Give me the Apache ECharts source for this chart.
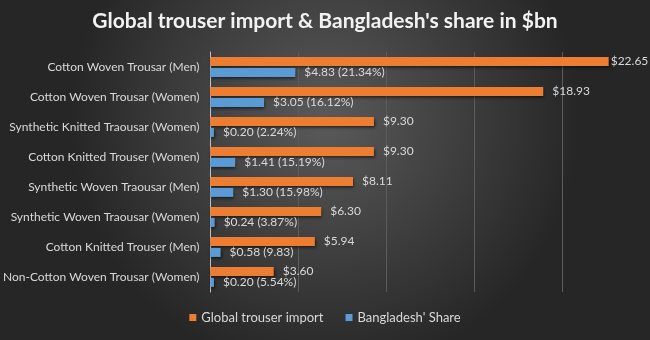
<!DOCTYPE html>
<html>
<head>
<meta charset="utf-8">
<script src="https://cdn.jsdelivr.net/npm/echarts@6/dist/echarts.min.js"></script>
<style>
html,body{margin:0;padding:0;background:#2b2b2b;}
#c{width:650px;height:340px;}
</style>
</head>
<body>
<div id="c"></div>
<script>
const categories = [
  "Cotton Woven Trousar (Men)",
  "Cotton Woven Trousar (Women)",
  "Synthetic Knitted Traousar (Women)",
  "Cotton Knitted Trouser (Women)",
  "Synthetic Woven Traousar (Men)",
  "Synthetic Woven Traousar (Women)",
  "Cotton Knitted Trouser (Men)",
  "Non-Cotton Woven Trousar (Women)"
];
const globalImport = [22.65, 18.93, 9.30, 9.30, 8.11, 6.30, 5.94, 3.60];
const bdShare = [4.83, 3.05, 0.20, 1.41, 1.30, 0.24, 0.58, 0.20];
const bdPercent = ["21.34%", "16.12%", "2.24%", "15.19%", "15.98%", "3.87%", "9.83", "5.54%"];
const seriesNames = ["Global trouser import", "Bangladesh' Share"];
const titleText = "Global trouser import & Bangladesh's share in $bn";

const chart = echarts.init(document.getElementById('c'));
const FONT = 'Lato, "Open Sans", sans-serif';
const XMAX = 25;
chart.setOption({
  backgroundColor: {
    type: 'radial', x: 0.5, y: 0.35, r: 0.75,
    colorStops: [{offset: 0, color: '#5a5a5a'}, {offset: 1, color: '#262626'}]
  },
  animation: false,
  title: {
    text: titleText, left: 'center', top: 6,
    textStyle: {color: '#f2f2f2', fontSize: 21, fontWeight: 'bold', fontFamily: FONT}
  },
  legend: {
    data: seriesNames, bottom: 11, left: 'center', itemWidth: 7, itemHeight: 7,
    itemGap: 22, icon: 'rect',
    textStyle: {color: '#d9d9d9', fontSize: 13, fontFamily: FONT}
  },
  grid: {left: 207, right: 0, top: 52, bottom: 48, containLabel: false},
  xAxis: {
    type: 'value', min: 0, max: XMAX, interval: 5,
    axisLabel: {show: false}, axisLine: {show: false}, axisTick: {show: false},
    splitLine: {show: true, lineStyle: {color: '#5c5c5c', width: 1}}
  },
  yAxis: {
    type: 'category', data: categories, inverse: true,
    axisLine: {show: true, lineStyle: {color: '#bfbfbf', width: 1}},
    axisTick: {show: false},
    axisLabel: {color: '#d9d9d9', fontSize: 12, fontFamily: FONT, margin: 11}
  },
  series: [
    {
      name: seriesNames[0], type: 'bar', barWidth: 9, barGap: '20%',
      data: globalImport.map(v => v > XMAX * 0.85
        ? {value: v, label: {show: true, position: 'right', distance: 2}} : v),
      itemStyle: {color: '#ed7d31', shadowColor: 'rgba(0,0,0,0.6)', shadowBlur: 3, shadowOffsetX: 1, shadowOffsetY: 2},
      label: {show: true, position: 'right', distance: 9, color: '#d9d9d9', fontSize: 12, fontFamily: FONT,
        formatter: p => '$' + p.value.toFixed(2)}
    },
    {
      name: seriesNames[1], type: 'bar', data: bdShare, barWidth: 9, barGap: '20%',
      itemStyle: {color: '#5b9bd5', shadowColor: 'rgba(0,0,0,0.6)', shadowBlur: 3, shadowOffsetX: 1, shadowOffsetY: 2},
      label: {show: true, position: 'right', distance: 9, color: '#d9d9d9', fontSize: 12, fontFamily: FONT,
        formatter: p => '$' + p.value.toFixed(2) + ' (' + bdPercent[p.dataIndex] + ')'}
    }
  ]
});
</script>
</body>
</html>
